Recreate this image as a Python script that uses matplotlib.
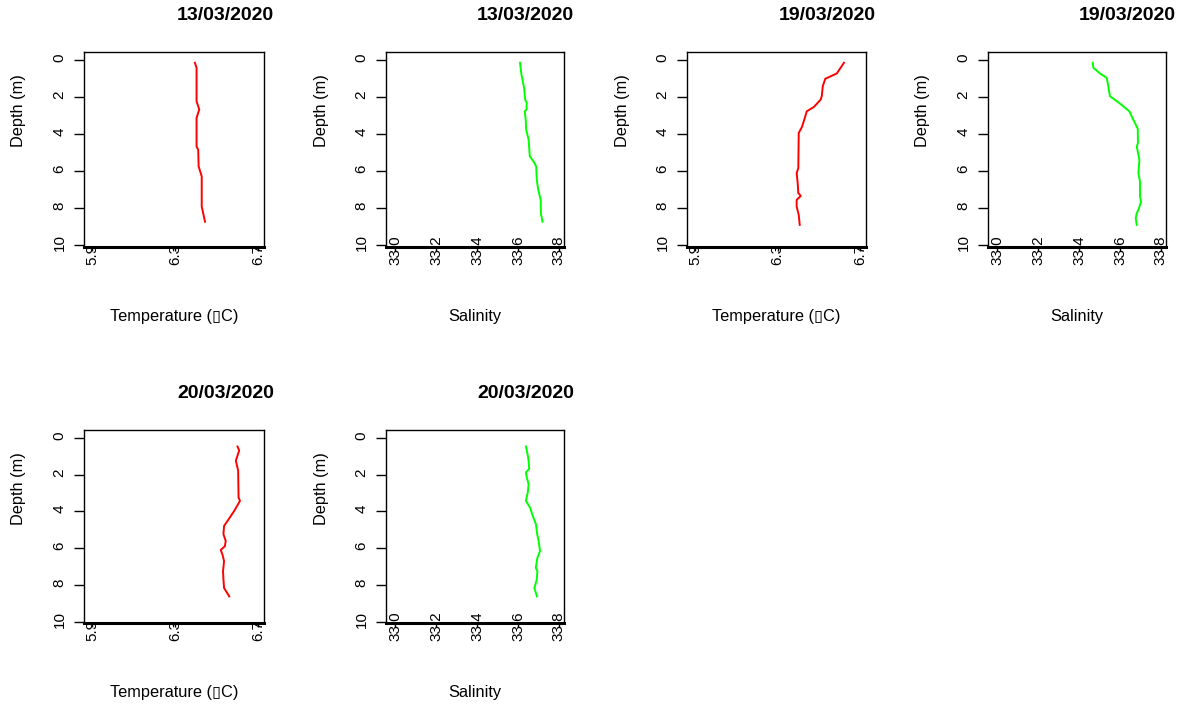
import matplotlib
matplotlib.use("Agg")
import matplotlib.pyplot as plt
from matplotlib.transforms import ScaledTranslation

W, H = 1186, 706

plt.rcParams['font.family'] = ['Liberation Sans', 'DejaVu Sans']

dates = ["13/03/2020", "19/03/2020", "20/03/2020"]

temp_ticks = [5.9, 6.3, 6.7]
sal_ticks = [33.0, 33.2, 33.4, 33.6, 33.8]
depth_ticks = [0, 2, 4, 6, 8, 10]

# 13/03/2020 profiles
t13_depth = [0.14, 0.41, 2.22, 2.67, 3.13, 4.67, 4.85, 5.75, 6.29, 7.92, 8.74]
t13_temp = [6.396, 6.404, 6.404, 6.417, 6.404, 6.404, 6.412, 6.414, 6.429, 6.429, 6.445]

s13_depth = [0.14, 0.78, 1.50, 2.13, 2.31, 2.67, 2.77, 3.22, 3.76, 4.30, 5.21,
             5.48, 5.75, 6.47, 7.01, 7.55, 8.28, 8.74]
s13_sal = [33.610, 33.617, 33.630, 33.635, 33.643, 33.642, 33.633, 33.638, 33.640,
           33.652, 33.658, 33.676, 33.689, 33.692, 33.699, 33.711, 33.712, 33.720]

# 19/03/2020 profiles
t19_depth = [0.14, 0.72, 1.01, 1.41, 1.95, 2.13, 2.53, 2.77, 3.22, 3.61, 3.94,
             5.84, 6.11, 6.65, 7.19, 7.34, 7.56, 7.92, 8.37, 8.91]
t19_temp = [6.623, 6.588, 6.532, 6.520, 6.515, 6.510, 6.477, 6.442, 6.430, 6.419,
            6.403, 6.401, 6.393, 6.398, 6.401, 6.413, 6.393, 6.393, 6.403, 6.408]

s19_depth = [0.14, 0.41, 0.72, 0.95, 1.41, 1.95, 2.35, 2.77, 3.22, 3.71, 4.48,
             4.67, 5.39, 6.11, 6.57, 7.38, 7.65, 8.01, 8.28, 8.55, 8.91]
s19_sal = [33.467, 33.470, 33.502, 33.535, 33.543, 33.551, 33.600, 33.646, 33.665,
           33.687, 33.688, 33.682, 33.695, 33.690, 33.698, 33.698, 33.703, 33.693,
           33.682, 33.677, 33.682]

# 20/03/2020 profiles
t20_depth = [0.46, 0.68, 1.23, 1.77, 3.24, 3.42, 3.97, 4.51, 4.79, 5.24, 5.61,
             5.89, 6.10, 6.34, 6.71, 7.25, 7.71, 8.17, 8.63]
t20_temp = [6.602, 6.610, 6.594, 6.605, 6.607, 6.614, 6.586, 6.554, 6.537, 6.534,
            6.545, 6.541, 6.521, 6.529, 6.537, 6.532, 6.534, 6.537, 6.562]

s20_depth = [0.46, 0.95, 1.23, 1.68, 1.87, 2.14, 2.51, 2.96, 3.42, 3.79, 4.24,
             4.70, 5.24, 5.61, 6.16, 6.52, 7.07, 7.25, 7.71, 8.17, 8.63]
s20_sal = [33.639, 33.648, 33.652, 33.655, 33.639, 33.643, 33.652, 33.648, 33.639,
           33.659, 33.672, 33.688, 33.694, 33.701, 33.708, 33.695, 33.687, 33.695,
           33.692, 33.680, 33.693]

# the degree sign came out as a missing-glyph box in the original device
TEMP_LABEL = "Temperature (\u25afC)"
SAL_LABEL = "Salinity"


def draw_panel(fig, box, depth, values, color, kind, title):
    left, top, right, bottom = box
    ax = fig.add_axes([left / W, 1 - bottom / H, (right - left) / W, (bottom - top) / H])
    ax.plot(values, depth, color=color, lw=1.4)
    if kind == "temp":
        ax.set_xlim(5.86, 6.73)
        ticks, xlabel = temp_ticks, TEMP_LABEL
    else:
        ax.set_xlim(32.955, 33.825)
        ticks, xlabel = sal_ticks, SAL_LABEL
    ax.set_ylim(10.08, -0.44)

    for sp in ax.spines.values():
        sp.set_linewidth(1.0)
    ax.spines['bottom'].set_linewidth(2.2)

    ax.set_yticks(depth_ticks)
    ax.set_yticklabels([str(d) for d in depth_ticks], rotation=90, va='center')
    ax.tick_params(axis='y', direction='out', length=7.2, width=1, pad=5.4, labelsize=11)
    shift = ScaledTranslation(0, 2.5 / 100, fig.dpi_scale_trans)
    for lab in ax.get_yticklabels():
        lab.set_transform(lab.get_transform() + shift)

    ax.set_xticks(ticks)
    ax.set_xticklabels([f"{t:.1f}" for t in ticks], rotation=90, va='bottom', ha='center')
    ax.tick_params(axis='x', direction='out', length=2.9, width=1, pad=10.1, labelsize=11)

    fig.text((right + 10) / W, 1 - (top - 36) / H, title, ha='right', va='center',
             fontsize=14, fontweight='bold')
    fig.text((left - 65) / W, 1 - (top + 59) / H, "Depth (m)", rotation=90,
             ha='center', va='center', fontsize=11.8)
    fig.text((left + right) / 2 / W, 1 - (bottom + 70) / H, xlabel,
             ha='center', va='center', fontsize=11.8)
    return ax


fig = plt.figure(figsize=(W / 100, H / 100), dpi=100)

row1 = (52, 246.5)
row2 = (430, 623)
cols = [(84, 264), (386, 564), (687, 866), (988, 1166)]

panels = [
    ((cols[0][0], row1[0], cols[0][1], row1[1]), t13_depth, t13_temp, "#ff0000", "temp", dates[0]),
    ((cols[1][0], row1[0], cols[1][1], row1[1]), s13_depth, s13_sal, "#00ff00", "sal", dates[0]),
    ((cols[2][0], row1[0], cols[2][1], row1[1]), t19_depth, t19_temp, "#ff0000", "temp", dates[1]),
    ((cols[3][0], row1[0], cols[3][1], row1[1]), s19_depth, s19_sal, "#00ff00", "sal", dates[1]),
    ((cols[0][0], row2[0], cols[0][1], row2[1]), t20_depth, t20_temp, "#ff0000", "temp", dates[2]),
    ((cols[1][0], row2[0], cols[1][1], row2[1]), s20_depth, s20_sal, "#00ff00", "sal", dates[2]),
]

for box, d, v, c, kind, title in panels:
    draw_panel(fig, box, d, v, c, kind, title)

fig.savefig("out.png", dpi=100)
